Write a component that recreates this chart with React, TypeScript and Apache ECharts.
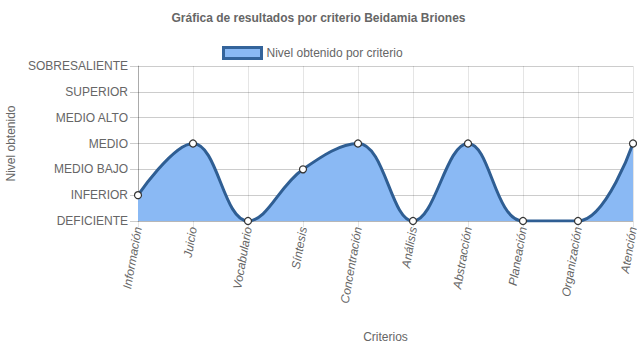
import React, { useEffect, useRef } from "react";
import * as echarts from "echarts";

const categories = [
  "Información",
  "Juicio",
  "Vocabulario",
  "Síntesis",
  "Concentración",
  "Análisis",
  "Abstracción",
  "Planeación",
  "Organización",
  "Atención",
];
const levels = [
  "DEFICIENTE",
  "INFERIOR",
  "MEDIO BAJO",
  "MEDIO",
  "MEDIO ALTO",
  "SUPERIOR",
  "SOBRESALIENTE",
];
const values = [1, 3, 0, 2, 3, 0, 3, 0, 0, 3];
const seriesName = "Nivel obtenido por criterio";
const titleText = "Gráfica de resultados por criterio Beidamia Briones";

const FONT = "'Liberation Sans', Arial, Helvetica, sans-serif";
const GREY = "#666";
const LINE = "#2f5e93";
const FILL = "#8ab9f4";

export default function App() {
  const ref = useRef<HTMLDivElement>(null);
  useEffect(() => {
    if (!ref.current) return;
    const chart = echarts.init(ref.current, undefined, { renderer: "svg" });
    chart.setOption({
      animation: false,
      textStyle: { fontFamily: FONT },
      title: {
        text: titleText,
        left: "center",
        top: 7,
        textStyle: { fontSize: 12, fontWeight: "bold", color: GREY, fontFamily: FONT },
      },
      legend: {
        top: 41,
        left: 217,
        itemWidth: 38,
        itemHeight: 11,
        itemGap: 8,
        textStyle: { fontSize: 12, color: GREY, fontFamily: FONT },
        data: [
          {
            name: seriesName,
            icon: "rect",
            itemStyle: { color: FILL, borderColor: "#34649b", borderWidth: 3 },
          },
        ],
      },
      grid: {
        left: 138,
        right: 4,
        top: 66,
        bottom: 127,
        containLabel: false,
        outerBoundsMode: "none",
      },
      xAxis: {
        type: "category",
        data: categories,
        boundaryGap: false,
        name: "Criterios",
        nameLocation: "middle",
        nameGap: 110,
        nameTextStyle: { fontSize: 12, color: GREY, fontFamily: FONT },
        axisLine: { show: true, lineStyle: { color: "rgba(0,0,0,0.1)" } },
        axisTick: { show: true, length: 6, lineStyle: { color: "rgba(0,0,0,0.1)" } },
        splitLine: { show: true, lineStyle: { color: "rgba(0,0,0,0.1)" } },
        axisLabel: {
          rotate: 80,
          margin: 6,
          fontSize: 12,
          color: GREY,
          fontStyle: "italic",
          fontFamily: FONT,
          interval: 0,
        },
      },
      yAxis: {
        type: "value",
        min: 0,
        max: 6,
        interval: 1,
        name: "Nivel obtenido",
        nameLocation: "middle",
        nameRotate: 90,
        nameGap: 120,
        nameTextStyle: { fontSize: 12, color: GREY, fontFamily: FONT },
        axisLine: { show: true, lineStyle: { color: "rgba(0,0,0,0.25)" } },
        axisTick: { show: true, length: 8, lineStyle: { color: "rgba(0,0,0,0.2)" } },
        splitLine: { show: true, lineStyle: { color: "rgba(0,0,0,0.2)" } },
        axisLabel: {
          margin: 10,
          fontSize: 12,
          color: GREY,
          fontFamily: FONT,
          formatter: (v: number) => levels[v] ?? "",
        },
      },
      series: [
        {
          name: seriesName,
          type: "line",
          data: values,
          smooth: 0.4,
          symbol: "circle",
          symbolSize: 7,
          showAllSymbol: true,
          lineStyle: { color: LINE, width: 3 },
          itemStyle: { color: "#fff", borderColor: "#333", borderWidth: 1.2 },
          areaStyle: { color: FILL, opacity: 1 },
        },
      ],
    });
    return () => chart.dispose();
  }, []);
  return <div ref={ref} style={{ width: 637, height: 348, position: "absolute", left: 0, top: 0 }} />;
}
